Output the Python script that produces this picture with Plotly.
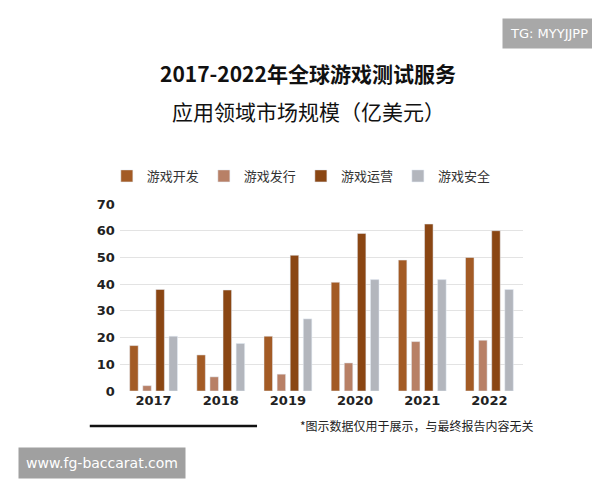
import plotly.graph_objects as go

# === DATOS ===
years = ['2017', '2018', '2019', '2020', '2021', '2022']
series_names = ['游戏开发', '游戏发行', '游戏运营', '游戏安全']
dev = [17, 13.5, 20.5, 40.7, 49, 50]
pub = [2, 5.3, 6.3, 10.5, 18.5, 19]
ops = [38, 37.8, 50.8, 59, 62.5, 60]
sec = [20.5, 17.8, 27, 41.7, 41.7, 38]
colors = ['#A35B25', '#B88066', '#8A4613', '#B3B6BD']

fig = go.Figure()
for name, vals, col in zip(series_names, [dev, pub, ops, sec], colors):
    fig.add_trace(go.Bar(x=years, y=vals, name=name, marker_color=col))

font = "Noto Sans CJK SC"
fig.update_layout(
    width=600, height=480,
    margin=dict(l=112, r=85, t=196, b=97),
    paper_bgcolor='white', plot_bgcolor='white',
    font=dict(family=font, color='#222'),
    barmode='group', bargap=0.22, bargroupgap=0.35,
    showlegend=True,
    legend=dict(orientation='h', x=0.45, xanchor='center', y=1.15, yanchor='middle',
                font=dict(size=13, color='#333')),
    yaxis=dict(range=[0, 70], dtick=10, gridcolor='#E3E3E3', zeroline=False,
               tickfont=dict(size=13, color='#222', family='DejaVu Sans'), ticks='',
               tickprefix='<b>', ticksuffix='</b> '),
    xaxis=dict(tickfont=dict(size=13, color='#222', family='DejaVu Sans'), showline=False,
               tickprefix='<b>', ticksuffix='</b>'),
)

# === TEXTOS ===
fig.add_annotation(text='<b>2017-2022年全球游戏测试服务</b>', xref='paper', yref='paper',
                   x=0.467, y=1.70, yanchor='middle', showarrow=False,
                   font=dict(size=21, color='#111'))
fig.add_annotation(text='应用领域市场规模（亿美元）', xref='paper', yref='paper',
                   x=0.467, y=1.497, yanchor='middle', showarrow=False,
                   font=dict(size=21, color='#111'))
fig.add_annotation(text='*图示数据仅用于展示，与最终报告内容无关', xref='paper', yref='paper',
                   x=1.032, xanchor='right', y=-0.187, yanchor='middle', showarrow=False,
                   font=dict(size=12, color='#222'))
fig.add_shape(type='line', xref='paper', yref='paper', x0=-0.075, x1=0.34,
              y0=-0.187, y1=-0.187, line=dict(color='#111', width=2.5))

# === MARCAS DE AGUA ===
fig.add_annotation(text='TG: MYYJJPP', xref='paper', yref='paper',
                   x=1.18, xanchor='right', y=1.914, yanchor='middle', showarrow=False,
                   bgcolor='#A8A8A8', borderpad=7, font=dict(size=13, color='white', family='DejaVu Sans'))
fig.add_annotation(text='www.fg-baccarat.com', xref='paper', yref='paper',
                   x=-0.253, xanchor='left', y=-0.385, yanchor='middle', showarrow=False,
                   bgcolor='#A0A0A0', borderpad=7, font=dict(size=14, color='white', family='DejaVu Sans'))

fig.write_html("out.html")
